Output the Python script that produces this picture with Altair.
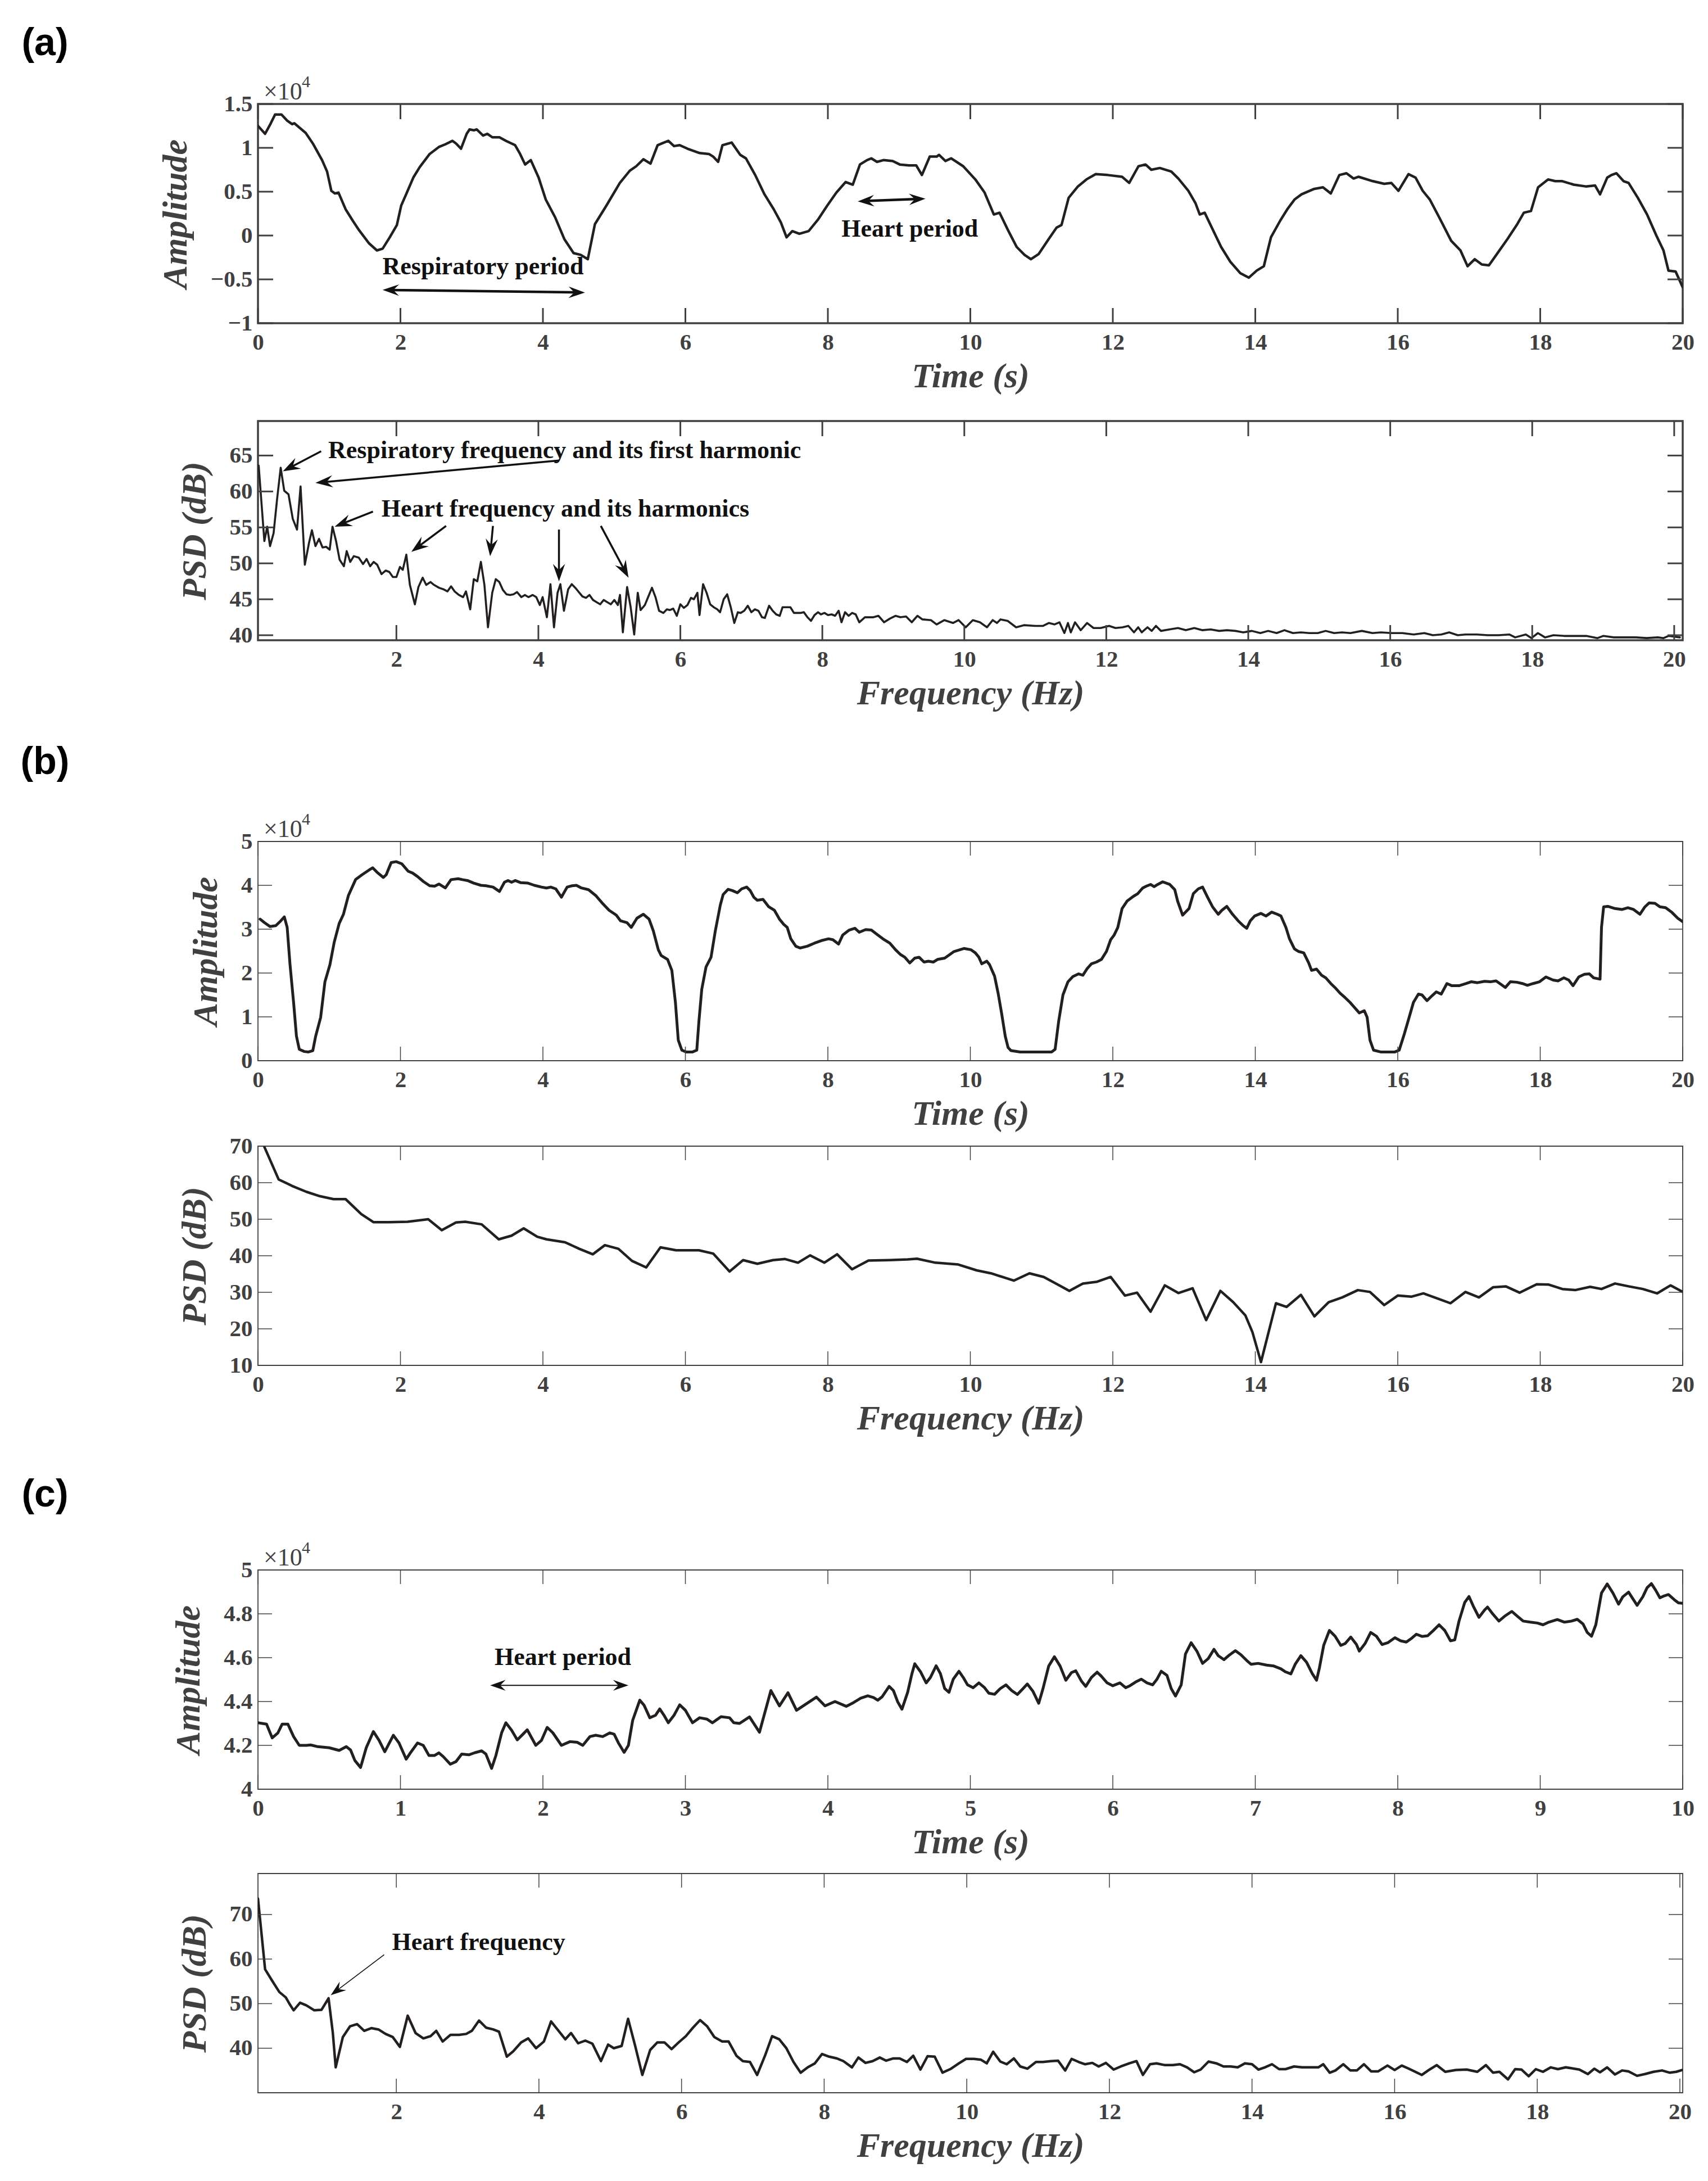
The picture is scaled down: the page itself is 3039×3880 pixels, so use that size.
import math
import altair as alt
import pandas as pd

# ---------------------------------------------------------------- data
# (a) time signal, amplitude in units of 1e4
A1_T = [0.00,0.10,0.18,0.24,0.33,0.41,0.48,0.51,0.67,0.77,0.90,0.97,1.03,1.08,1.13,1.23,1.33,1.42,1.56,1.67,
        1.75,1.85,1.95,2.01,2.08,2.18,2.27,2.41,2.54,2.63,2.73,2.78,2.85,2.93,2.97,3.03,3.07,3.16,3.22,3.29,
        3.39,3.48,3.61,3.68,3.75,3.83,3.94,4.04,4.17,4.30,4.43,4.53,4.63,4.73,4.89,5.08,5.22,5.31,5.41,5.51,
        5.61,5.67,5.76,5.84,5.92,6.03,6.20,6.33,6.39,6.46,6.52,6.65,6.77,6.85,6.98,7.11,7.24,7.34,7.42,7.50,
        7.60,7.73,7.86,7.99,8.12,8.25,8.35,8.45,8.55,8.61,8.69,8.78,8.91,9.01,9.14,9.24,9.32,9.43,9.53,9.56,
        9.65,9.73,9.90,10.07,10.20,10.33,10.41,10.53,10.65,10.76,10.85,10.96,11.10,11.21,11.28,11.38,11.51,11.63,11.76,11.93,
        12.13,12.23,12.36,12.46,12.54,12.66,12.82,12.92,13.06,13.16,13.22,13.29,13.39,13.52,13.65,13.79,13.91,14.02,14.12,14.22,
        14.35,14.45,14.55,14.65,14.82,14.95,15.06,15.18,15.28,15.38,15.45,15.65,15.81,15.91,16.01,16.15,16.25,16.35,16.45,16.58,
        16.75,16.88,16.98,17.08,17.18,17.28,17.41,17.54,17.67,17.77,17.87,17.97,18.11,18.21,18.31,18.47,18.64,18.77,18.84,18.94,
        19.00,19.07,19.17,19.24,19.37,19.50,19.63,19.73,19.80,19.90,20.00]
A1_V = [1.25,1.16,1.28,1.38,1.38,1.31,1.27,1.28,1.17,1.05,0.86,0.73,0.51,0.48,0.49,0.30,0.17,0.06,-0.09,-0.17,
        -0.15,-0.02,0.12,0.34,0.47,0.66,0.78,0.93,1.01,1.04,1.08,1.05,0.99,1.16,1.21,1.20,1.21,1.14,1.16,1.12,
        1.12,1.08,1.03,0.93,0.81,0.86,0.66,0.41,0.21,-0.04,-0.20,-0.22,-0.27,0.13,0.34,0.60,0.74,0.79,0.87,0.82,
        1.03,1.05,1.08,1.02,1.03,0.99,0.94,0.93,0.90,0.84,1.03,1.06,0.92,0.88,0.69,0.47,0.30,0.15,-0.02,0.05,
        0.02,0.05,0.18,0.34,0.49,0.61,0.58,0.81,0.86,0.88,0.84,0.86,0.85,0.81,0.80,0.80,0.69,0.90,0.90,0.92,
        0.85,0.88,0.79,0.64,0.49,0.24,0.26,0.06,-0.13,-0.22,-0.27,-0.21,-0.04,0.09,0.12,0.43,0.56,0.64,0.70,0.69,
        0.67,0.60,0.79,0.81,0.75,0.77,0.73,0.65,0.51,0.37,0.24,0.26,0.09,-0.13,-0.30,-0.43,-0.48,-0.40,-0.35,-0.02,
        0.17,0.30,0.41,0.47,0.53,0.55,0.48,0.69,0.71,0.65,0.67,0.62,0.59,0.60,0.51,0.70,0.66,0.51,0.41,0.21,
        -0.06,-0.17,-0.35,-0.27,-0.33,-0.34,-0.19,-0.04,0.12,0.26,0.28,0.55,0.64,0.62,0.62,0.58,0.56,0.57,0.47,0.66,
        0.69,0.71,0.62,0.60,0.43,0.24,0.00,-0.17,-0.40,-0.41,-0.59]

# (a) PSD
A2_F = [0.06,0.14,0.18,0.22,0.27,0.32,0.37,0.42,0.48,0.54,0.60,0.65,0.71,0.77,0.81,0.86,0.91,0.96,1.01,1.06,
        1.10,1.15,1.20,1.26,1.30,1.35,1.40,1.47,1.53,1.58,1.63,1.68,1.73,1.79,1.85,1.90,1.95,2.00,2.05,2.09,
        2.14,2.19,2.26,2.31,2.37,2.42,2.48,2.53,2.60,2.66,2.72,2.77,2.82,2.88,2.94,2.98,3.04,3.09,3.14,3.19,
        3.24,3.29,3.35,3.40,3.45,3.50,3.55,3.60,3.65,3.70,3.76,3.81,3.86,3.92,3.97,4.02,4.06,4.12,4.17,4.22,
        4.27,4.31,4.36,4.42,4.47,4.52,4.57,4.62,4.67,4.72,4.77,4.82,4.87,4.92,4.97,5.02,5.07,5.12,5.15,5.19,
        5.25,5.30,5.35,5.40,5.44,5.50,5.55,5.60,5.65,5.70,5.76,5.81,5.85,5.90,5.95,6.00,6.05,6.10,6.15,6.19,
        6.24,6.27,6.32,6.37,6.42,6.47,6.52,6.56,6.61,6.66,6.71,6.76,6.81,6.85,6.90,6.95,7.00,7.05,7.10,7.15,
        7.19,7.25,7.30,7.35,7.40,7.44,7.50,7.55,7.60,7.65,7.69,7.74,7.79,7.84,7.89,7.94,7.98,8.03,8.08,8.13,
        8.18,8.23,8.27,8.32,8.37,8.42,8.47,8.52,8.60,8.72,8.79,8.87,8.95,9.03,9.10,9.18,9.26,9.34,9.41,9.53,
        9.61,9.72,9.84,9.92,10.02,10.12,10.22,10.32,10.40,10.46,10.51,10.61,10.73,10.84,11.00,11.11,11.19,11.27,11.34,11.41,
        11.46,11.50,11.56,11.64,11.73,11.82,11.92,12.04,12.13,12.23,12.31,12.39,12.45,12.50,12.58,12.64,12.70,12.77,12.89,13.01,
        13.12,13.24,13.35,13.47,13.59,13.70,13.82,13.93,14.05,14.17,14.28,14.40,14.51,14.63,14.74,14.86,14.98,15.09,15.21,15.32,
        15.44,15.60,15.75,15.87,16.02,16.17,16.33,16.48,16.60,16.72,16.83,16.95,17.06,17.22,17.37,17.53,17.68,17.76,17.91,17.99,
        18.08,18.18,18.30,18.45,18.61,18.76,18.92,19.00,19.15,19.30,19.46,19.61,19.77,19.85,19.92,20.08]
A2_V = [63.6,53.1,55.1,52.4,54.2,59.0,63.3,60.1,59.6,56.2,54.7,60.7,49.8,52.9,54.6,52.4,53.4,52.2,52.3,51.9,
        55.1,53.1,50.5,49.6,51.7,50.2,51.0,50.8,49.9,50.6,49.6,50.2,49.8,48.5,49.0,48.8,48.1,48.1,49.5,49.1,
        51.2,47.0,44.3,46.7,48.0,47.0,47.4,47.0,46.6,46.4,46.1,46.8,46.1,45.6,45.3,46.1,43.6,47.8,47.5,50.2,
        47.0,41.1,45.9,47.8,47.4,46.3,45.7,45.6,45.7,46.0,45.3,45.6,45.3,45.6,45.3,44.2,45.3,42.5,47.1,41.1,
        45.9,47.1,43.4,46.4,47.1,46.6,46.0,45.4,45.2,45.6,44.9,44.6,44.3,44.9,44.6,44.3,44.9,44.2,45.6,40.4,
        46.7,43.9,40.1,45.9,43.5,44.2,45.4,46.6,45.3,43.4,43.1,43.6,43.5,43.7,42.7,44.3,43.8,44.2,45.2,45.0,
        45.9,42.8,47.1,45.9,44.3,43.9,43.6,43.2,45.0,45.7,43.9,41.7,43.2,43.1,43.4,44.1,43.2,43.6,43.4,42.5,
        42.4,44.1,43.4,42.9,42.7,43.9,43.9,43.9,43.1,43.1,43.1,43.2,42.5,42.0,42.8,43.2,42.9,43.1,42.8,42.9,
        42.7,43.4,41.8,43.2,42.7,43.1,42.9,41.8,42.5,42.5,42.7,41.8,42.3,42.7,42.5,42.6,41.8,42.7,42.2,42.1,
        41.5,42.1,41.7,42.1,41.1,42.1,41.8,41.1,42.1,41.7,42.2,42.0,41.1,41.4,41.3,41.3,41.7,41.5,41.8,40.3,
        41.7,40.4,41.8,40.7,41.7,41.0,41.0,41.3,41.0,41.1,41.3,40.4,41.1,40.4,41.1,40.6,41.3,40.6,40.8,41.0,
        40.7,41.0,40.7,40.8,40.6,40.7,40.6,40.4,40.6,40.3,40.6,40.3,40.7,40.3,40.4,40.3,40.3,40.6,40.3,40.4,
        40.3,40.6,40.3,40.4,40.3,40.3,40.1,40.3,40.0,40.1,40.4,40.0,40.1,40.1,40.0,40.0,40.1,39.7,40.1,39.6,
        40.3,39.7,40.0,39.9,39.9,39.9,39.6,39.9,39.7,39.7,39.7,39.6,39.7,39.6,39.9,39.7]

# (b) time signal
B1_T = [0.03,0.09,0.17,0.25,0.32,0.37,0.41,0.45,0.50,0.54,0.58,0.65,0.71,0.77,0.81,0.88,0.94,1.01,1.07,1.14,
        1.20,1.27,1.37,1.46,1.56,1.61,1.67,1.76,1.80,1.87,1.94,2.02,2.11,2.17,2.24,2.32,2.41,2.48,2.54,2.63,
        2.71,2.81,2.87,2.94,3.03,3.13,3.20,3.30,3.39,3.46,3.51,3.56,3.61,3.69,3.79,3.88,3.98,4.05,4.11,4.18,
        4.26,4.34,4.41,4.47,4.54,4.64,4.74,4.83,4.93,5.03,5.09,5.18,5.24,5.32,5.41,5.49,5.55,5.62,5.66,5.75,
        5.81,5.86,5.90,5.95,6.01,6.10,6.16,6.19,6.23,6.29,6.36,6.42,6.49,6.53,6.60,6.66,6.73,6.79,6.86,6.91,
        6.96,7.01,7.09,7.17,7.25,7.32,7.38,7.43,7.48,7.55,7.61,7.71,7.81,7.91,8.01,8.07,8.15,8.21,8.30,8.38,
        8.44,8.53,8.61,8.70,8.79,8.87,8.95,9.02,9.08,9.15,9.22,9.28,9.35,9.41,9.48,9.54,9.64,9.71,9.77,9.91,
        10.01,10.07,10.12,10.16,10.23,10.27,10.34,10.39,10.44,10.49,10.53,10.57,10.70,10.90,11.14,11.19,11.24,11.30,11.37,11.44,
        11.52,11.58,11.64,11.70,11.77,11.84,11.91,11.97,12.02,12.07,12.13,12.20,12.29,12.35,12.42,12.47,12.53,12.58,12.63,12.70,
        12.80,12.87,12.91,12.98,13.07,13.13,13.20,13.26,13.33,13.40,13.48,13.53,13.60,13.68,13.76,13.83,13.88,13.93,13.99,14.08,
        14.15,14.23,14.31,14.36,14.43,14.48,14.55,14.61,14.68,14.75,14.79,14.86,14.93,14.99,15.06,15.13,15.19,15.26,15.33,15.39,
        15.46,15.53,15.57,15.61,15.66,15.76,15.96,16.02,16.09,16.16,16.22,16.29,16.34,16.41,16.48,16.54,16.61,16.69,16.76,16.86,
        16.96,17.03,17.12,17.22,17.30,17.38,17.45,17.51,17.58,17.67,17.75,17.82,17.90,17.99,18.08,18.18,18.25,18.33,18.40,18.46,
        18.54,18.62,18.69,18.75,18.84,18.86,18.89,18.95,19.05,19.15,19.23,19.31,19.40,19.47,19.53,19.61,19.68,19.76,19.85,19.93,
        20.00]
B1_V = [3.23,3.15,3.06,3.08,3.19,3.28,3.04,2.19,1.33,0.56,0.26,0.21,0.20,0.23,0.56,0.99,1.80,2.19,2.70,3.13,
        3.34,3.77,4.13,4.24,4.35,4.40,4.30,4.18,4.24,4.52,4.54,4.49,4.32,4.28,4.20,4.09,3.99,3.98,4.03,3.94,
        4.13,4.15,4.13,4.11,4.05,4.00,3.99,3.96,3.86,4.07,4.11,4.07,4.11,4.06,4.05,4.00,3.96,3.94,3.96,3.92,
        3.73,3.96,3.99,4.00,3.94,3.90,3.77,3.60,3.43,3.32,3.19,3.15,3.04,3.25,3.34,3.23,2.96,2.53,2.40,2.31,
        2.06,1.33,0.47,0.24,0.20,0.20,0.24,0.90,1.63,2.14,2.36,2.96,3.55,3.79,3.91,3.88,3.83,3.92,3.96,3.88,
        3.73,3.66,3.68,3.51,3.43,3.23,3.11,3.04,2.78,2.61,2.57,2.61,2.68,2.74,2.78,2.76,2.66,2.87,2.98,3.02,
        2.93,2.99,2.98,2.87,2.76,2.68,2.53,2.42,2.36,2.23,2.34,2.36,2.25,2.27,2.25,2.31,2.34,2.42,2.49,2.56,
        2.53,2.46,2.36,2.21,2.27,2.19,1.93,1.54,1.07,0.56,0.30,0.23,0.20,0.20,0.20,0.26,0.90,1.50,1.80,1.92,
        1.98,1.95,2.10,2.21,2.25,2.31,2.49,2.76,2.87,3.04,3.47,3.64,3.75,3.81,3.94,3.98,4.02,3.97,4.02,4.08,
        4.02,3.90,3.64,3.32,3.47,3.81,3.92,3.96,3.73,3.51,3.34,3.43,3.52,3.34,3.19,3.08,3.02,3.19,3.30,3.36,
        3.30,3.39,3.34,3.30,3.04,2.78,2.55,2.49,2.46,2.23,2.06,2.09,1.95,1.89,1.76,1.65,1.54,1.44,1.33,1.22,
        1.09,1.14,0.99,0.47,0.24,0.20,0.20,0.24,0.60,0.99,1.33,1.52,1.50,1.37,1.48,1.57,1.52,1.76,1.71,1.71,
        1.76,1.80,1.78,1.81,1.80,1.82,1.74,1.67,1.80,1.79,1.76,1.72,1.76,1.80,1.91,1.84,1.82,1.89,1.84,1.71,
        1.91,1.97,1.98,1.89,1.86,3.04,3.51,3.52,3.47,3.45,3.49,3.45,3.34,3.51,3.60,3.59,3.51,3.49,3.38,3.25,
        3.17]

# (b) PSD
B2_F = [0.09,0.29,0.48,0.68,0.87,1.06,1.23,1.45,1.62,1.84,2.10,2.23,2.39,2.58,2.78,2.91,3.14,3.38,3.56,3.73,
        3.92,4.05,4.31,4.51,4.70,4.87,5.06,5.25,5.45,5.65,5.87,6.19,6.39,6.62,6.81,7.01,7.23,7.40,7.58,7.75,
        7.95,8.13,8.34,8.57,8.86,9.12,9.25,9.51,9.83,10.09,10.29,10.61,10.83,11.03,11.39,11.58,11.78,11.97,12.17,12.34,
        12.53,12.73,12.92,13.12,13.31,13.51,13.69,13.86,13.96,14.08,14.29,14.44,14.64,14.83,15.03,15.22,15.44,15.61,15.81,16.00,
        16.19,16.36,16.56,16.74,16.95,17.14,17.34,17.52,17.71,17.95,18.12,18.31,18.49,18.70,18.86,19.05,19.25,19.44,19.64,19.83,
        20.00]
B2_V = [69.8,60.9,59.1,57.5,56.3,55.5,55.5,51.4,49.2,49.2,49.3,49.6,50.0,47.0,49.1,49.3,48.6,44.5,45.5,47.5,
        45.2,44.5,43.7,41.9,40.4,42.9,41.9,38.6,36.8,42.3,41.5,41.5,40.6,35.7,38.8,37.8,38.8,39.1,38.1,40.1,
        38.1,40.4,36.3,38.7,38.8,39.0,39.2,38.1,37.6,36.0,35.2,33.2,35.2,34.2,30.4,32.4,32.9,34.2,29.1,29.9,
        24.7,31.9,29.8,31.1,22.4,30.4,27.3,23.7,19.1,10.9,27.0,26.0,29.3,23.4,27.3,28.6,30.6,30.1,26.5,29.1,
        28.8,29.7,28.3,27.0,30.1,28.6,31.4,31.6,29.9,32.2,32.1,30.9,30.6,31.5,30.9,32.4,31.6,30.9,29.7,31.9,
        30.1]

# (c) time signal, amplitude in units of 1e4
C1_T = [0.00,0.06,0.10,0.14,0.17,0.21,0.25,0.29,0.34,0.37,0.42,0.50,0.57,0.62,0.65,0.68,0.72,0.76,0.81,0.85,
        0.89,0.95,0.99,1.04,1.07,1.12,1.16,1.20,1.24,1.27,1.30,1.35,1.39,1.43,1.48,1.52,1.57,1.60,1.64,1.67,
        1.71,1.74,1.78,1.82,1.86,1.89,1.95,1.99,2.03,2.07,2.13,2.19,2.24,2.28,2.33,2.37,2.42,2.47,2.50,2.53,
        2.57,2.60,2.63,2.68,2.71,2.75,2.79,2.82,2.85,2.88,2.92,2.96,3.00,3.05,3.10,3.15,3.19,3.25,3.31,3.34,
        3.38,3.45,3.52,3.60,3.66,3.72,3.78,3.85,3.92,3.98,4.05,4.13,4.18,4.23,4.28,4.32,4.35,4.38,4.43,4.46,
        4.49,4.52,4.56,4.59,4.61,4.65,4.69,4.72,4.76,4.79,4.82,4.85,4.88,4.92,4.95,4.98,5.02,5.06,5.10,5.13,
        5.17,5.21,5.25,5.29,5.33,5.37,5.40,5.44,5.48,5.51,5.55,5.59,5.63,5.67,5.71,5.74,5.78,5.81,5.85,5.89,
        5.92,5.96,6.00,6.05,6.09,6.12,6.16,6.20,6.24,6.28,6.31,6.34,6.38,6.41,6.44,6.48,6.51,6.55,6.59,6.63,
        6.67,6.71,6.74,6.78,6.82,6.86,6.90,6.94,6.97,7.02,7.08,7.13,7.18,7.21,7.25,7.28,7.32,7.36,7.40,7.43,
        7.45,7.48,7.52,7.56,7.60,7.63,7.67,7.71,7.73,7.77,7.81,7.85,7.89,7.93,7.98,8.02,8.06,8.10,8.13,8.17,
        8.21,8.25,8.29,8.33,8.37,8.40,8.43,8.47,8.50,8.53,8.57,8.61,8.63,8.67,8.71,8.75,8.80,8.84,8.88,8.93,
        8.98,9.02,9.06,9.12,9.17,9.22,9.26,9.30,9.33,9.36,9.39,9.43,9.47,9.51,9.55,9.58,9.62,9.65,9.68,9.72,
        9.75,9.78,9.81,9.84,9.87,9.90,9.94,9.97,10.00]
C1_V = [4.303,4.297,4.234,4.257,4.297,4.297,4.240,4.200,4.200,4.202,4.194,4.189,4.177,4.194,4.179,4.131,4.099,4.189,4.263,4.223,
        4.171,4.246,4.211,4.137,4.166,4.211,4.200,4.154,4.154,4.166,4.149,4.114,4.126,4.160,4.157,4.166,4.175,4.160,4.095,4.154,
        4.257,4.303,4.269,4.225,4.251,4.271,4.200,4.223,4.282,4.257,4.200,4.217,4.214,4.200,4.240,4.246,4.240,4.257,4.251,4.211,
        4.168,4.200,4.314,4.406,4.383,4.326,4.337,4.366,4.337,4.303,4.337,4.385,4.360,4.303,4.326,4.320,4.303,4.331,4.326,4.303,
        4.300,4.330,4.260,4.450,4.380,4.440,4.360,4.390,4.420,4.380,4.400,4.378,4.395,4.415,4.426,4.418,4.406,4.421,4.469,4.450,
        4.399,4.365,4.442,4.527,4.572,4.536,4.485,4.510,4.563,4.527,4.459,4.442,4.502,4.538,4.510,4.476,4.463,4.485,4.463,4.438,
        4.433,4.459,4.476,4.450,4.432,4.459,4.480,4.446,4.392,4.459,4.562,4.604,4.562,4.497,4.532,4.540,4.493,4.469,4.510,4.534,
        4.515,4.485,4.472,4.485,4.463,4.472,4.489,4.502,4.485,4.476,4.502,4.538,4.519,4.459,4.425,4.476,4.617,4.668,4.630,4.574,
        4.596,4.638,4.609,4.591,4.613,4.632,4.613,4.587,4.570,4.574,4.566,4.562,4.549,4.536,4.526,4.570,4.609,4.579,4.527,4.497,
        4.553,4.656,4.724,4.698,4.656,4.664,4.694,4.660,4.630,4.664,4.715,4.698,4.660,4.668,4.691,4.677,4.671,4.690,4.707,4.697,
        4.700,4.724,4.750,4.724,4.677,4.681,4.767,4.852,4.879,4.835,4.784,4.818,4.831,4.797,4.767,4.789,4.811,4.789,4.767,4.762,
        4.758,4.750,4.762,4.774,4.762,4.767,4.775,4.754,4.715,4.698,4.750,4.895,4.936,4.895,4.844,4.878,4.899,4.869,4.839,4.878,
        4.919,4.938,4.908,4.873,4.882,4.888,4.865,4.850,4.848]

# (c) PSD
C2_F = [0.06,0.16,0.26,0.36,0.45,0.50,0.56,0.65,0.74,0.85,0.95,1.05,1.11,1.15,1.25,1.35,1.45,1.55,1.65,1.75,
        1.85,1.95,2.05,2.16,2.27,2.38,2.48,2.56,2.65,2.76,2.88,2.98,3.06,3.16,3.26,3.36,3.44,3.55,3.64,3.75,
        3.85,3.96,4.07,4.17,4.26,4.37,4.45,4.55,4.65,4.75,4.87,4.97,5.05,5.16,5.25,5.35,5.45,5.56,5.66,5.76,
        5.86,5.96,6.06,6.16,6.26,6.36,6.46,6.57,6.66,6.77,6.86,6.96,7.06,7.17,7.27,7.37,7.47,7.57,7.67,7.77,
        7.87,7.97,8.07,8.18,8.27,8.39,8.48,8.58,8.68,8.78,8.87,8.97,9.06,9.16,9.25,9.35,9.45,9.55,9.66,9.78,
        9.89,9.99,10.10,10.20,10.28,10.37,10.47,10.56,10.66,10.75,10.85,10.97,11.07,11.18,11.28,11.38,11.47,11.57,11.66,11.76,
        11.85,11.95,12.06,12.16,12.28,12.38,12.47,12.57,12.66,12.78,12.89,12.99,13.09,13.19,13.28,13.39,13.50,13.60,13.70,13.80,
        13.90,14.00,14.09,14.18,14.28,14.38,14.47,14.59,14.70,14.82,14.93,15.00,15.09,15.17,15.28,15.38,15.47,15.57,15.67,15.77,
        15.90,16.00,16.10,16.20,16.38,16.47,16.59,16.71,16.86,17.01,17.16,17.28,17.38,17.47,17.59,17.69,17.78,17.88,17.98,18.08,
        18.19,18.29,18.40,18.52,18.59,18.71,18.80,18.88,18.98,19.09,19.19,19.28,19.40,19.51,19.63,19.75,19.86,19.95,20.03]
C2_V = [73.6,57.7,55.1,52.6,51.4,50.0,48.5,50.2,49.6,48.5,48.6,51.2,43.4,35.7,42.5,44.9,45.4,43.9,44.5,44.2,
        43.2,42.5,40.3,47.3,43.4,42.2,42.7,43.9,41.5,43.0,43.0,43.2,43.9,46.2,44.6,44.2,43.7,38.1,39.3,41.3,
        42.2,40.0,41.5,46.0,44.2,42.0,43.4,41.1,41.7,41.0,37.1,40.8,40.0,40.5,46.6,40.5,34.0,39.6,41.3,41.3,
        39.8,41.3,42.7,44.6,46.3,44.9,42.5,41.5,41.5,38.3,37.1,36.9,34.0,38.3,42.7,42.0,40.0,36.9,34.5,35.7,
        36.6,38.7,38.1,37.7,37.1,35.7,37.9,36.7,37.1,37.9,37.2,37.7,37.7,36.9,38.3,35.2,38.2,38.1,34.5,35.4,
        36.6,37.6,37.6,37.4,36.6,39.2,37.0,36.4,37.7,35.9,35.4,36.9,36.9,37.1,37.2,35.0,37.6,36.9,36.4,36.7,
        35.9,36.7,35.2,35.9,36.6,37.1,34.0,36.4,36.6,36.2,36.2,36.4,35.7,34.6,35.2,37.0,36.6,35.9,35.9,35.7,
        36.6,36.4,35.2,35.7,36.4,35.3,35.3,35.9,35.7,35.7,35.7,36.4,34.5,35.0,36.4,35.0,35.0,36.4,34.8,34.8,
        36.1,35.1,36.1,35.4,34.0,35.0,36.2,34.7,35.1,35.2,34.7,36.2,34.5,34.7,33.0,35.3,35.2,33.7,35.3,34.7,
        35.7,35.3,35.7,35.4,35.2,34.2,35.4,34.6,35.7,34.1,35.0,34.8,33.8,34.2,34.7,35.0,34.5,34.7,35.1]

# axis ticks
A1_XT = [0, 2, 4, 6, 8, 10, 12, 14, 16, 18, 20]
A1_YT = [-1, -0.5, 0, 0.5, 1, 1.5]
A2_XT = [2, 4, 6, 8, 10, 12, 14, 16, 18, 20]
A2_YT = [40, 45, 50, 55, 60, 65]
B1_YT = [0, 1, 2, 3, 4, 5]
B2_XT = [0, 2, 4, 6, 8, 10, 12, 14, 16, 18, 20]
B2_YT = [10, 20, 30, 40, 50, 60, 70]
C1_XT = [0, 1, 2, 3, 4, 5, 6, 7, 8, 9, 10]
C1_YT = [4, 4.2, 4.4, 4.6, 4.8, 5]
C2_YT = [40, 50, 60, 70]

# annotations (data coordinates)
A1_TEXTS = [("Respiratory period", 3.16, -0.44, "center"), ("Heart period", 9.15, -0.01, "center")]
A1_ARROWS = [(1.75, -0.62, 4.59, -0.65, True), (8.42, 0.39, 9.37, 0.42, True)]
A2_TEXTS = [("Respiratory frequency and its first harmonic", 1.04, 64.6, "left"),
            ("Heart frequency and its harmonics", 1.79, 56.5, "left")]
A2_ARROWS = [(0.94, 65.6, 0.40, 62.8, False), (4.29, 64.3, 0.86, 61.2, False),
             (1.67, 57.2, 1.13, 55.1, False), (2.70, 55.2, 2.21, 51.6, False),
             (3.36, 55.2, 3.32, 51.0, False), (4.29, 54.7, 4.29, 47.5, False),
             (4.88, 55.2, 5.27, 48.0, False)]
C1_TEXTS = [("Heart period", 2.14, 4.566, "center")]
C1_ARROWS = [(1.63, 4.474, 2.60, 4.474, True)]
C2_TEXTS = [("Heart frequency", 1.94, 62.1, "left")]
C2_ARROWS = [(1.83, 61.0, 1.08, 51.9, False)]

# ---------------------------------------------------------------- style
W = 2535
H = 390
FONT = "Liberation Serif"
AXC = "#404040"
LC = "#231f20"
INK = "#111111"
HEAD = "M0,0 L-2,-0.7 L-1.3,0 L-2,0.7 Z"
LABEL_SIZE = 41
TITLE_SIZE = 62


def axis_x(values, title):
    return alt.Axis(values=values, format="d", title=title, ticks=False, domain=False, grid=False,
                    labelFont=FONT, labelFontSize=LABEL_SIZE, labelFontWeight="bold", labelColor=AXC,
                    labelPadding=14, labelFlush=False, labelOverlap=False,
                    titleFont=FONT, titleFontSize=TITLE_SIZE, titleFontWeight="bold", titleFontStyle="italic",
                    titleColor=AXC, titlePadding=10)


def axis_y(values, fmt, title):
    return alt.Axis(values=values, format=fmt, title=title, ticks=False, domain=False, grid=False,
                    labelFont=FONT, labelFontSize=LABEL_SIZE, labelFontWeight="bold", labelColor=AXC,
                    labelPadding=10, labelFlush=False, labelOverlap=False,
                    titleFont=FONT, titleFontSize=TITLE_SIZE, titleFontWeight="bold", titleFontStyle="italic",
                    titleColor=AXC, titlePadding=30)


class Panel:
    def __init__(self, xv, yv, xdom, ydom, xticks, yticks, xtitle, ytitle, yfmt,
                 line_w, frame_w, tick_w, tick_len):
        self.xs = alt.Scale(domain=xdom, nice=False, zero=False)
        self.ys = alt.Scale(domain=ydom, nice=False, zero=False)
        self.xa = axis_x(xticks, xtitle)
        self.ya = axis_y(yticks, yfmt, ytitle)
        self.kx = W / (xdom[1] - xdom[0])
        self.ky = H / (ydom[1] - ydom[0])
        self.frame_w = frame_w
        df = pd.DataFrame({"x": xv, "y": yv})
        line = alt.Chart(df).mark_line(color=LC, strokeWidth=line_w, clip=True,
                                       strokeJoin="round", strokeCap="round").encode(
            x=self.X("x"), y=self.Y("y"))
        xt = alt.Chart(pd.DataFrame({"v": xticks}))
        yt = alt.Chart(pd.DataFrame({"v": yticks}))
        rk = dict(color=AXC, strokeWidth=tick_w)
        self.layers = [
            line,
            xt.mark_rule(**rk).encode(x=self.X("v"), y=alt.value(0), y2=alt.value(tick_len)),
            xt.mark_rule(**rk).encode(x=self.X("v"), y=alt.value(H - tick_len), y2=alt.value(H)),
            yt.mark_rule(**rk).encode(y=self.Y("v"), x=alt.value(0), x2=alt.value(tick_len)),
            yt.mark_rule(**rk).encode(y=self.Y("v"), x=alt.value(W - tick_len), x2=alt.value(W)),
        ]

    # every layer shares identical explicit axis definitions so the axes merge cleanly
    def X(self, f):
        return alt.X(f, type="quantitative", scale=self.xs, axis=self.xa)

    def Y(self, f):
        return alt.Y(f, type="quantitative", scale=self.ys, axis=self.ya)

    def texts(self, items, size=44):
        for label, x, y, align in items:
            df = pd.DataFrame({"x": [x], "y": [y], "t": [label]})
            self.layers.append(alt.Chart(df).mark_text(
                font=FONT, fontSize=size, fontWeight="bold", color=INK, align=align,
                baseline="alphabetic").encode(x=self.X("x"), y=self.Y("y"), text="t:N"))

    def _ang(self, x1, y1, x2, y2):
        dx = (x2 - x1) * self.kx
        dy = -(y2 - y1) * self.ky
        return math.degrees(math.atan2(dy, dx)) % 360, dx, dy

    def arrows(self, items, width, head_size, shorten):
        for x1, y1, x2, y2, both in items:
            ang, dx, dy = self._ang(x1, y1, x2, y2)
            ln = math.hypot(dx, dy)
            ux, uy = dx / ln, dy / ln
            ex = x2 - ux * shorten / self.kx
            ey = y2 + uy * shorten / self.ky
            sx, sy = x1, y1
            heads = [(x2, y2, ang)]
            if both:
                sx = x1 + ux * shorten / self.kx
                sy = y1 - uy * shorten / self.ky
                heads.append((x1, y1, (ang + 180) % 360))
            rdf = pd.DataFrame({"x1": [sx], "y1": [sy], "x2": [ex], "y2": [ey]})
            self.layers.append(alt.Chart(rdf).mark_rule(color=INK, strokeWidth=width).encode(
                x=self.X("x1"), y=self.Y("y1"), x2=alt.X2("x2"), y2=alt.Y2("y2")))
            hdf = pd.DataFrame(heads, columns=["x", "y", "a"])
            self.layers.append(alt.Chart(hdf).mark_point(
                shape=HEAD, filled=True, size=head_size, color=INK, opacity=1, strokeWidth=0).encode(
                x=self.X("x"), y=self.Y("y"), angle=alt.Angle("a:Q", scale=None)))

    def pixel_text(self, label, px, py, size, weight="normal", font=FONT, color=AXC,
                   align="left", baseline="alphabetic"):
        df = pd.DataFrame({"t": [label]})
        self.layers.append(alt.Chart(df).mark_text(
            font=font, fontSize=size, fontWeight=weight, color=color, align=align,
            baseline=baseline).encode(text="t:N", x=alt.value(px), y=alt.value(py)))

    def exponent(self):
        self.pixel_text("×10", 10, -8, 44)
        self.pixel_text("4", 78, -30, 30)

    def chart(self):
        return alt.layer(*self.layers).properties(
            width=W, height=H, view=alt.ViewBackground(stroke=AXC, strokeWidth=self.frame_w))


def spacer(h):
    return alt.Chart(pd.DataFrame({"d": [0]})).mark_point(opacity=0).encode(
        x=alt.value(0), y=alt.value(0)).properties(
        width=W, height=h, view=alt.ViewBackground(stroke="transparent"))


# ---------------------------------------------------------------- panels
a1 = Panel(A1_T, A1_V, [0, 20], [-1, 1.5], A1_XT, A1_YT, "Time (s)", "Amplitude", "~g", 4.5, 3.5, 3, 27)
a1.texts(A1_TEXTS)
a1.arrows(A1_ARROWS, 4.5, 850, 14)
a1.exponent()
a1.pixel_text("(a)", -379, -107, 68, weight="bold", font="Liberation Sans", color="#000000",
              align="center", baseline="middle")

a2 = Panel(A2_F, A2_V, [0.05, 20.12], [39.3, 69.8], A2_XT, A2_YT, "Frequency (Hz)", "PSD (dB)", "d",
           3.6, 3.5, 3, 27)
a2.texts(A2_TEXTS)
a2.arrows(A2_ARROWS, 3.5, 950, 14)

b1 = Panel(B1_T, B1_V, [0, 20], [0, 5], A1_XT, B1_YT, "Time (s)", "Amplitude", "d", 5, 1.8, 1.5, 25)
b1.exponent()
b1.pixel_text("(b)", -379, -140, 68, weight="bold", font="Liberation Sans", color="#000000",
              align="center", baseline="middle")

b2 = Panel(B2_F, B2_V, [0, 20], [10, 70], B2_XT, B2_YT, "Frequency (Hz)", "PSD (dB)", "d", 4.5, 1.8, 1.5, 25)

c1 = Panel(C1_T, C1_V, [0, 10], [4, 5], C1_XT, C1_YT, "Time (s)", "Amplitude", "~g", 5, 1.8, 1.5, 25)
c1.texts(C1_TEXTS)
c1.arrows(C1_ARROWS, 2, 750, 10)
c1.exponent()
c1.pixel_text("(c)", -379, -133, 68, weight="bold", font="Liberation Sans", color="#000000",
              align="center", baseline="middle")

c2 = Panel(C2_F, C2_V, [0.06, 20.04], [30, 79.2], A2_XT, C2_YT, "Frequency (Hz)", "PSD (dB)", "d",
           4.5, 1.8, 1.5, 25)
c2.texts(C2_TEXTS)
c2.arrows(C2_ARROWS, 1.6, 750, 10)

chart = alt.vconcat(
    a1.chart(), spacer(174), a2.chart(), spacer(358), b1.chart(), spacer(152),
    b2.chart(), spacer(364), c1.chart(), spacer(150), c2.chart(),
    spacing=0, bounds="flush",
).properties(padding={"left": 27, "top": 34, "right": 10, "bottom": 10})

chart.save("out.html", embed_options={"renderer": "svg", "actions": False})
